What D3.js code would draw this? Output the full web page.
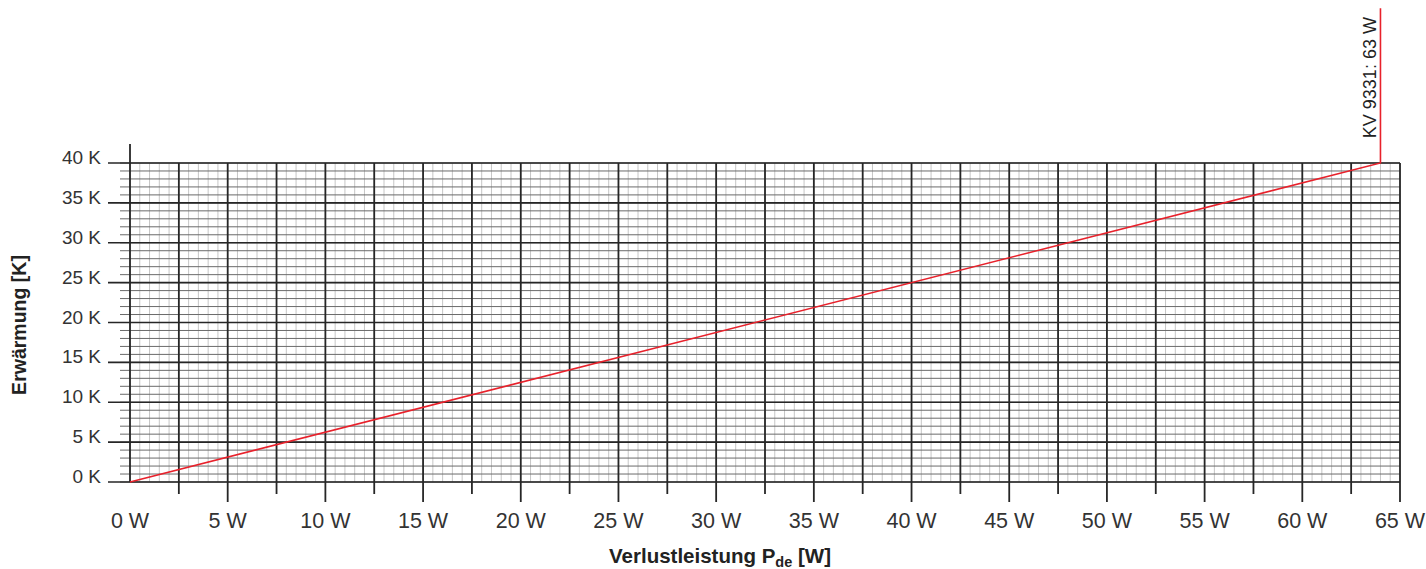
<!DOCTYPE html>
<html>
<head>
<meta charset="utf-8">
<script src="https://cdn.jsdelivr.net/npm/d3@7"></script>
<style>
  html, body { margin: 0; padding: 0; background: #fff; }
  svg { display: block; }
  text { font-family: "Liberation Sans", Arial, Helvetica, sans-serif; }
</style>
</head>
<body>
<div id="chart"></div>
<script>
// ---- data ----
const lossPowerW   = [0, 64, 64];      // Verlustleistung P_de [W]
const heatingK     = [0, 40, 59.4];    // Erwärmung [K]
const xTickValues  = [0, 5, 10, 15, 20, 25, 30, 35, 40, 45, 50, 55, 60, 65];
const xTickLabels  = ["0 W","5 W","10 W","15 W","20 W","25 W","30 W","35 W","40 W","45 W","50 W","55 W","60 W","65 W"];
const yTickValues  = [0, 5, 10, 15, 20, 25, 30, 35, 40];
const yTickLabels  = ["0 K","5 K","10 K","15 K","20 K","25 K","30 K","35 K","40 K"];
const deviceLabel  = "KV 9331: 63 W";
const xTitle       = "Verlustleistung P";
const xTitleSub    = "de";
const xTitleEnd    = " [W]";
const yTitle       = "Erwärmung [K]";

// ---- layout ----
const W = 1426, H = 569;
const svg = d3.select("#chart").append("svg").attr("width", W).attr("height", H);

const x = d3.scaleLinear().domain([0, 65]).range([130, 1400]);
const y = d3.scaleLinear().domain([0, 40]).range([482, 163]);

const minorX = d3.range(0, 65.001, 0.5);
const majorX = d3.range(0, 65.001, 2.5);
const minorY = d3.range(0, 40.001, 1);

const g = svg.append("g");

// light vertical minor grid
g.selectAll("line.vminor").data(minorX).join("line")
  .attr("x1", d => x(d)).attr("x2", d => x(d))
  .attr("y1", y(40)).attr("y2", y(0))
  .attr("stroke", "#c6c6c6").attr("stroke-width", 1);

// horizontal 1K lines (with short tick to the left)
g.selectAll("line.hminor").data(minorY).join("line")
  .attr("x1", 120).attr("x2", x(65))
  .attr("y1", d => y(d)).attr("y2", d => y(d))
  .attr("stroke", "#6a6a6a").attr("stroke-width", 1);

// major vertical lines every 2.5 W with ticks below
g.selectAll("line.vmajor").data(majorX).join("line")
  .attr("x1", d => x(d)).attr("x2", d => x(d))
  .attr("y1", d => d === 0 ? 144 : y(40))
  .attr("y2", d => d === 0 ? y(0) : (d % 5 === 0 ? 502 : 494))
  .attr("stroke", "#262626").attr("stroke-width", 1.8);

// major horizontal lines every 5 K with longer tick to the left
g.selectAll("line.hmajor").data(yTickValues).join("line")
  .attr("x1", 108).attr("x2", x(65))
  .attr("y1", d => y(d)).attr("y2", d => y(d))
  .attr("stroke", "#262626").attr("stroke-width", 1.6);

// y tick labels
g.selectAll("text.ylab").data(yTickValues).join("text")
  .attr("x", 101).attr("y", d => y(d) + 1)
  .attr("text-anchor", "end")
  .attr("font-size", 19).attr("fill", "#333")
  .text((d, i) => yTickLabels[i]);

// x tick labels
g.selectAll("text.xlab").data(xTickValues).join("text")
  .attr("x", d => x(d)).attr("y", 528)
  .attr("text-anchor", "middle")
  .attr("font-size", 21.5).attr("fill", "#333")
  .text((d, i) => xTickLabels[i]);

// red curve
const pts = lossPowerW.map((p, i) => [p, heatingK[i]]);
g.append("path")
  .attr("d", d3.line().x(d => x(d[0])).y(d => y(d[1]))(pts))
  .attr("fill", "none").attr("stroke", "#e8212b").attr("stroke-width", 1.6);

// device label (vertical)
g.append("text")
  .attr("transform", `translate(${x(64) - 4},${(y(heatingK[2]) + y(40)) / 2 - 8}) rotate(-90)`)
  .attr("text-anchor", "middle")
  .attr("font-size", 18).attr("fill", "#222")
  .text(deviceLabel);

// axis titles
const xt = g.append("text")
  .attr("x", 720).attr("y", 563)
  .attr("text-anchor", "middle")
  .attr("font-size", 20.5).attr("font-weight", "bold").attr("fill", "#222");
xt.append("tspan").text(xTitle);
xt.append("tspan").attr("font-size", 14.5).attr("dy", 4).text(xTitleSub);
xt.append("tspan").attr("dy", -4).text(xTitleEnd);

g.append("text")
  .attr("transform", "translate(26,325) rotate(-90)")
  .attr("text-anchor", "middle")
  .attr("font-size", 19.5).attr("font-weight", "bold").attr("fill", "#222")
  .text(yTitle);
</script>
</body>
</html>
